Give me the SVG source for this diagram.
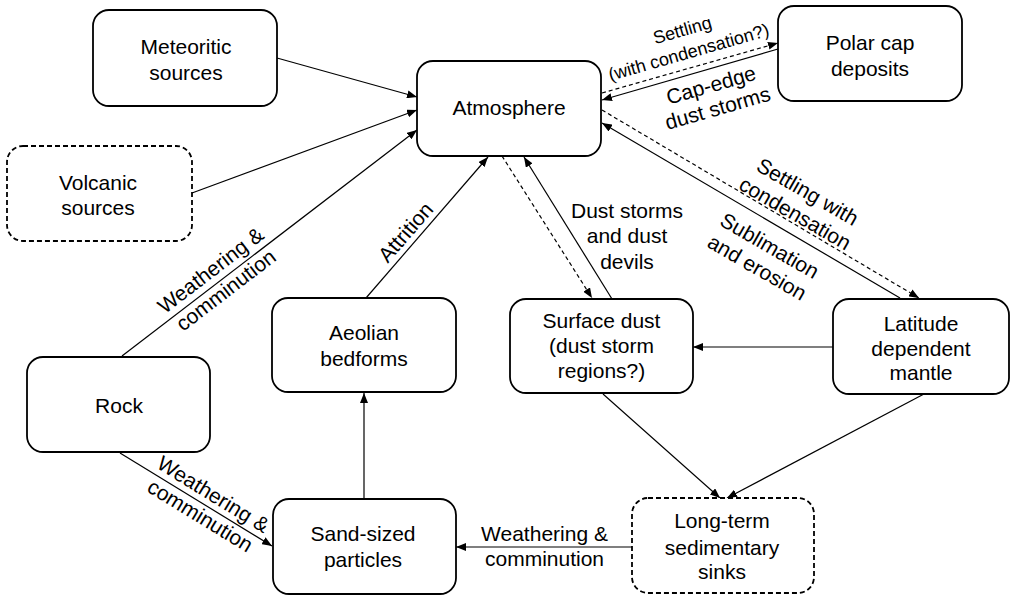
<svg xmlns="http://www.w3.org/2000/svg" width="1010" height="595" viewBox="0 0 1010 595">
<style>
  .box { fill: #fff; stroke: #000; stroke-width: 1.8; }
  .dbox { fill: #fff; stroke: #000; stroke-width: 1.8; stroke-dasharray: 5 3; }
  .t { font-family: "Liberation Sans", Arial, sans-serif; font-size: 21px; fill: #000; text-anchor: middle; }
  .ts { font-family: "Liberation Sans", Arial, sans-serif; font-size: 18px; fill: #000; text-anchor: middle; }
  .c { fill: none; stroke: #000; stroke-width: 1.2; marker-end: url(#ah); }
  .cd { fill: none; stroke: #000; stroke-width: 1.2; stroke-dasharray: 4 3; marker-end: url(#ah); }
  .cn { fill: none; stroke: #000; stroke-width: 1.2; }
</style>
<defs>
  <marker id="ah" viewBox="0 0 10 8" refX="10" refY="4" markerWidth="10" markerHeight="8" markerUnits="userSpaceOnUse" orient="auto">
    <path d="M0,0 L10,4 L0,8 z" fill="#000"/>
  </marker>
</defs>
<rect width="1010" height="595" fill="#fff"/>

<g id="connectors">
  <path class="c" d="M277,58 L417,97"/>
  <path class="c" d="M192,193 L417,110"/>
  <path class="c" d="M122,356 L417,130"/>
  <path class="c" d="M366,298 L488,157"/>
  <path class="cd" d="M502,156 L592,298"/>
  <path class="c" d="M612,299 L524,157"/>
  <path class="cd" d="M602,93 L778,43"/>
  <path class="c" d="M778,49 L602,100"/>
  <path class="c" d="M900,298 L602,123"/>
  <path class="cd" d="M602,110 L919,298"/>
  <path class="c" d="M833,347 L693,347"/>
  <path class="c" d="M603,394 L720,498"/>
  <path class="c" d="M924,394 L727,498"/>
  <path class="c" d="M120,453 L272,546"/>
  <path class="c" d="M364,499 L364,393"/>
  <path class="c" d="M632,547 L456,547"/>
</g>

<g id="labels">
  <text class="ts" transform="translate(684,36) rotate(-16)"><tspan x="0" y="0">Settling</tspan><tspan x="0" dy="23">(with condensation?)</tspan></text>
  <text class="t" transform="translate(713,92) rotate(-16)"><tspan x="0" y="0">Cap-edge</tspan><tspan x="0" dy="24">dust storms</tspan></text>
  <text class="t" transform="translate(804,198) rotate(30)"><tspan x="0" y="0">Settling with</tspan><tspan x="0" dy="25">condensation</tspan></text>
  <text class="t" transform="translate(766,252) rotate(30)"><tspan x="0" y="0">Sublimation</tspan><tspan x="0" dy="25">and erosion</tspan></text>
  <text class="t"><tspan x="627" y="218">Dust storms</tspan><tspan x="627" y="243">and dust</tspan><tspan x="627" y="269">devils</tspan></text>
  <text class="t" transform="translate(411,237) rotate(-49)">Attrition</text>
  <text class="t" transform="translate(215,276) rotate(-37.5)"><tspan x="0" y="0">Weathering &amp;</tspan><tspan x="0" dy="25">comminution</tspan></text>
  <text class="t" transform="translate(209.5,500.5) rotate(31.5)"><tspan x="0" y="0">Weathering &amp;</tspan><tspan x="0" dy="25">comminution</tspan></text>
  <text class="t"><tspan x="544.5" y="541">Weathering &amp;</tspan><tspan x="544.5" y="566">comminution</tspan></text>
</g>

<g id="meteoritic">
  <rect class="box" x="93" y="10" width="184" height="96" rx="16"/>
  <text class="t"><tspan x="186" y="54">Meteoritic</tspan><tspan x="186" y="80">sources</tspan></text>
</g>
<g id="volcanic">
  <rect class="dbox" x="7" y="146" width="185" height="95" rx="16"/>
  <text class="t"><tspan x="98" y="190">Volcanic</tspan><tspan x="98" y="215">sources</tspan></text>
</g>
<g id="atmosphere">
  <rect class="box" x="417" y="61" width="184" height="95" rx="16"/>
  <text class="t" x="509" y="115">Atmosphere</text>
</g>
<g id="polar">
  <rect class="box" x="778" y="6" width="184" height="95" rx="16"/>
  <text class="t"><tspan x="870" y="50">Polar cap</tspan><tspan x="870" y="76">deposits</tspan></text>
</g>
<g id="aeolian">
  <rect class="box" x="272" y="298" width="184" height="94" rx="16"/>
  <text class="t"><tspan x="364" y="340">Aeolian</tspan><tspan x="364" y="366">bedforms</tspan></text>
</g>
<g id="surface">
  <rect class="box" x="510" y="299" width="183" height="94" rx="16"/>
  <text class="t"><tspan x="601.5" y="328">Surface dust</tspan><tspan x="601.5" y="353">(dust storm</tspan><tspan x="601.5" y="378">regions?)</tspan></text>
</g>
<g id="latitude">
  <rect class="box" x="833" y="299" width="176" height="95" rx="16"/>
  <text class="t"><tspan x="921" y="331">Latitude</tspan><tspan x="921" y="356">dependent</tspan><tspan x="921" y="380">mantle</tspan></text>
</g>
<g id="rock">
  <rect class="box" x="27" y="357" width="183" height="95" rx="16"/>
  <text class="t" x="119" y="413">Rock</text>
</g>
<g id="sand">
  <rect class="box" x="273" y="499" width="183" height="95" rx="16"/>
  <text class="t"><tspan x="363" y="541">Sand-sized</tspan><tspan x="363" y="567">particles</tspan></text>
</g>
<g id="sinks">
  <rect class="dbox" x="632" y="498" width="182" height="95" rx="16"/>
  <text class="t"><tspan x="722" y="528">Long-term</tspan><tspan x="722" y="555">sedimentary</tspan><tspan x="722" y="579">sinks</tspan></text>
</g>
</svg>
